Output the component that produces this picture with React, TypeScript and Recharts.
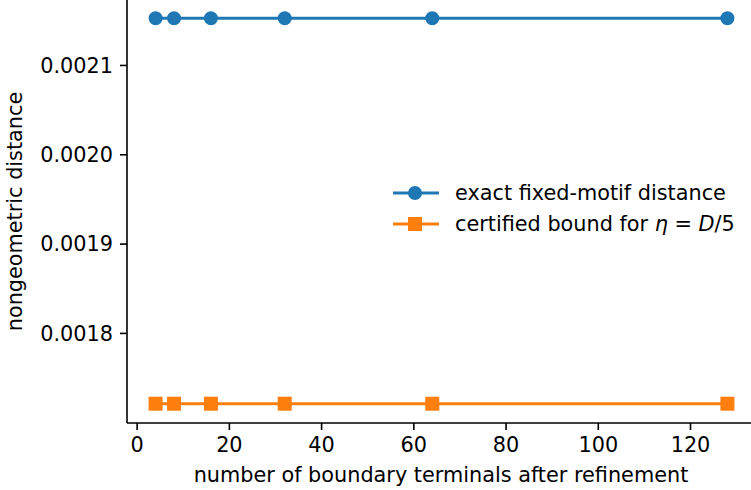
import React from "react";
import { LineChart, Line, XAxis, YAxis, Legend } from "recharts";

const terminals = [4, 8, 16, 32, 64, 128];
const exactDistance = [0.0021528, 0.0021528, 0.0021528, 0.0021528, 0.0021528, 0.0021528];
const certifiedBound = [0.0017213, 0.0017213, 0.0017213, 0.0017213, 0.0017213, 0.0017213];
const xTicks = [0, 20, 40, 60, 80, 100, 120];
const yTicks = [0.0018, 0.0019, 0.002, 0.0021];

const data = terminals.map((n, i) => ({
  n,
  exact: exactDistance[i],
  bound: certifiedBound[i],
}));

const BLUE = "#1f77b4";
const ORANGE = "#ff7f0e";
const FONT = "DejaVu Sans";
const FS = 20.8;

const SquareDot = (props: any) => {
  const { cx, cy } = props;
  if (cx == null || cy == null) return null;
  return (
    <rect x={cx - 6} y={cy - 6} width={12} height={12} fill={ORANGE} stroke={ORANGE} strokeWidth={2} />
  );
};

const CircleDot = (props: any) => {
  const { cx, cy } = props;
  if (cx == null || cy == null) return null;
  return <circle cx={cx} cy={cy} r={6} fill={BLUE} stroke={BLUE} strokeWidth={2} />;
};

// legend drawn like matplotlib: short line with marker, then label
const LegendBox = () => (
  <svg width={360} height={70} style={{ display: "block", fontFamily: FONT }}>
    <line x1={8} y1={18} x2={54} y2={18} stroke={BLUE} strokeWidth={3} />
    <circle cx={30} cy={18} r={6} fill={BLUE} stroke={BLUE} strokeWidth={2} />
    <text x={70} y={18} dy="0.35em" fontSize={FS} fill="#000">
      exact fixed-motif distance
    </text>
    <line x1={8} y1={49} x2={54} y2={49} stroke={ORANGE} strokeWidth={3} />
    <rect x={24} y={43} width={12} height={12} fill={ORANGE} stroke={ORANGE} strokeWidth={2} />
    <text x={70} y={49} dy="0.35em" fontSize={FS} fill="#000">
      certified bound for <tspan fontStyle="italic">η</tspan> = <tspan fontStyle="italic">D</tspan>/5
    </text>
  </svg>
);

export default function App() {
  const axisStyle = { stroke: "#000", strokeWidth: 1.6 };
  const tickStyle = { fill: "#000", fontSize: FS, fontFamily: FONT };

  return (
    <div
      style={{
        position: "fixed",
        left: 0,
        top: 0,
        width: 751,
        height: 490,
        overflow: "hidden",
        background: "#fff",
      }}
    >
      <div style={{ position: "absolute", left: 0, top: -1 }}>
        <LineChart
          width={760}
          height={491}
          data={data}
          margin={{ top: 0, right: 4, left: 0, bottom: 0 }}
          style={{ fontFamily: FONT }}
        >
          <XAxis
            type="number"
            dataKey="n"
            domain={[-2.2, 134.2]}
            ticks={xTicks}
            allowDataOverflow
            height={67}
            tickSize={7}
            tickMargin={7}
            axisLine={axisStyle}
            tickLine={axisStyle}
            tick={tickStyle}
            label={{
              content: () => (
                <text x={441} y={483} textAnchor="middle" fontSize={FS} fontFamily={FONT} fill="#000">
                  number of boundary terminals after refinement
                </text>
              ),
            }}
          />
          <YAxis
            type="number"
            domain={[0.0016997, 0.0021744]}
            ticks={yTicks}
            allowDataOverflow
            width={127}
            tickSize={7}
            tickMargin={7}
            axisLine={axisStyle}
            tickLine={axisStyle}
            tick={tickStyle}
            tickFormatter={(v: number) => v.toFixed(4)}
            label={{
              content: () => (
                <text
                  x={21.5}
                  y={212.5}
                  textAnchor="middle"
                  fontSize={FS}
                  fontFamily={FONT}
                  fill="#000"
                  transform="rotate(-90, 21.5, 212.5)"
                >
                  nongeometric distance
                </text>
              ),
            }}
          />
          <Legend
            content={() => <LegendBox />}
            layout="horizontal"
            verticalAlign="middle"
            align="center"
            wrapperStyle={{ left: 385, top: 176, width: 360, height: 70 }}
          />
          <Line
            dataKey="exact"
            stroke={BLUE}
            strokeWidth={3}
            dot={<CircleDot />}
            activeDot={false}
            isAnimationActive={false}
          />
          <Line
            dataKey="bound"
            stroke={ORANGE}
            strokeWidth={3}
            dot={<SquareDot />}
            activeDot={false}
            isAnimationActive={false}
          />
        </LineChart>
      </div>
    </div>
  );
}
